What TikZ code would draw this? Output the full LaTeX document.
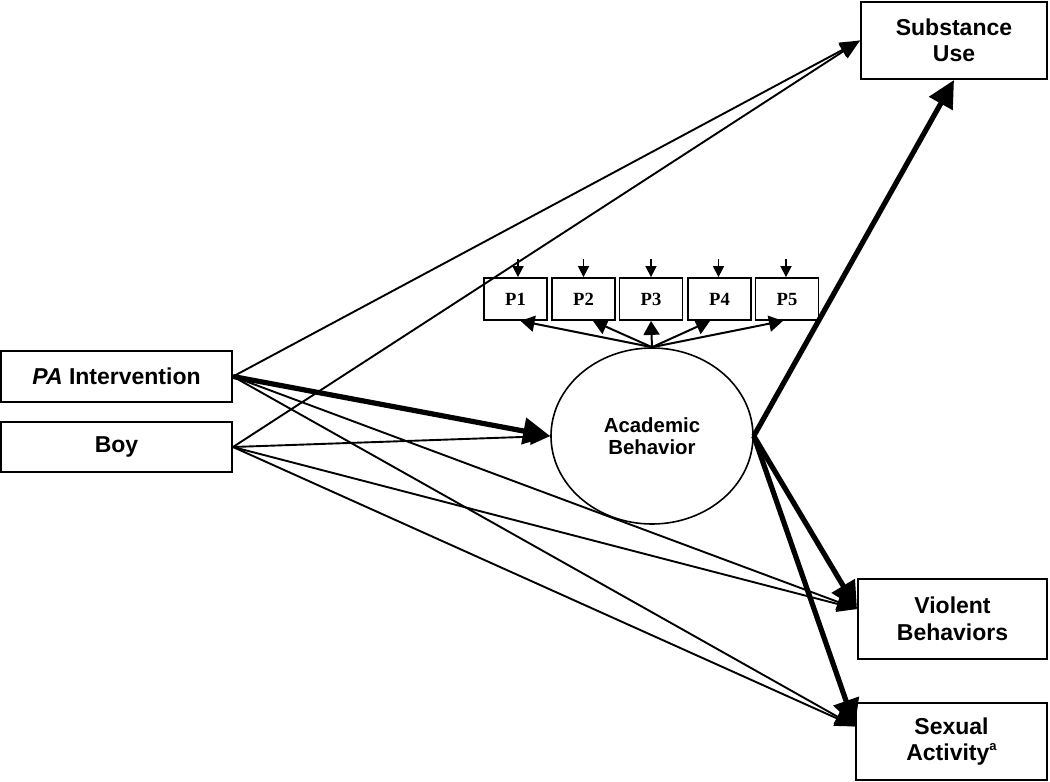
\documentclass[tikz,border=0pt]{standalone}
\usepackage{fontspec}
\setmainfont{Liberation Sans}
\newfontfamily\seriffont{Liberation Serif}
\usetikzlibrary{arrows.meta,calc,shapes.geometric}
\begin{document}
\begin{tikzpicture}[x=0.5pt,y=-0.5pt,
 box/.style={draw,line width=1pt,inner sep=0pt,align=center,font=\fontsize{11.5}{12.8}\selectfont\bfseries},
 pbox/.style={draw,line width=0.9pt,minimum width=31.5pt,minimum height=21pt,inner sep=0pt,font=\seriffont\fontsize{9.3}{10}\selectfont\bfseries},
 thinarr/.style={line width=0.95pt,-{Triangle[length=10pt,width=8pt]}},
 thickarr/.style={line width=2.6pt,-{Triangle[length=13.5pt,width=13pt]}},
 loadarr/.style={line width=1pt,-{Triangle[length=7pt,width=8pt]}},
 errarr/.style={line width=0.8pt,-{Triangle[length=5.5pt,width=5.5pt]}}]
\useasboundingbox (0,0) rectangle (1050,782);

% nodes
\node[box,minimum width=115.5pt,minimum height=25.5pt] (pa) at (116.5,376.5) {\textit{PA} Intervention};
\node[box,minimum width=115.5pt,minimum height=25pt] (boy) at (116.5,447) {Boy};
\node[box,minimum width=93pt,minimum height=38.5pt] (su) at (954,40.5) {Substance\\Use};
\node[box,minimum width=94.5pt,minimum height=40pt,font=\fontsize{11.5}{13.3}\selectfont\bfseries] (vb) at (952.5,619) {Violent\\Behaviors};
\node[box,minimum width=95.5pt,minimum height=38.5pt,font=\fontsize{11.5}{13.3}\selectfont\bfseries] (sa) at (951.5,741.5) {Sexual\\Activity\raisebox{0.45em}{\fontsize{6.5}{6.5}\selectfont a}};
\node[draw,ellipse,line width=0.8pt,minimum width=101pt,minimum height=88pt,inner sep=0pt,align=center,font=\fontsize{10.2}{11}\selectfont\bfseries] (ab) at (652,436) {Academic\\Behavior};

\node[pbox] (p1) at (515.5,299) {P1};
\node[pbox] (p2) at (583.5,299) {P2};
\node[pbox] (p3) at (651,299) {P3};
\node[pbox] (p4) at (719.5,299) {P4};
\node[pbox] (p5) at (787,299) {P5};

% error terms
\coordinate (e1) at ($(p1.north)+(2.5,-18)$);
\coordinate (e2) at ($(p2.north)+(0,-18)$);
\coordinate (e3) at ($(p3.north)+(0,-18)$);
\coordinate (e4) at ($(p4.north)+(-1,-18)$);
\coordinate (e5) at ($(p5.north)+(-1,-18)$);
\draw[errarr] (e1) -- ($(p1.north)+(2.5,0)$);
\draw[errarr] (e2) -- (p2.north);
\draw[errarr] (e3) -- (p3.north);
\draw[errarr] (e4) -- ($(p4.north)+(-1,0)$);
\draw[errarr] (e5) -- ($(p5.north)+(-1,0)$);

% loadings
\draw[loadarr] (ab.north) -- ($(p1.south)+(5,0)$);
\draw[loadarr] (ab.north) -- ($(p2.south)+(9.5,0)$);
\draw[loadarr] (ab.north) -- (p3.south);
\draw[loadarr] (ab.north) -- ($(p4.south)+(-9.5,0)$);
\draw[loadarr] (ab.north) -- ($(p5.south)+(-4,0)$);

% paths from PA Intervention
\draw[thinarr] (pa.east) -- (su.west);
\draw[thickarr] (pa.east) -- (ab.west);
\draw[thinarr] (pa.east) -- ($(vb.west)+(0,-10)$);
\draw[thinarr] (pa.east) -- ($(sa.west)+(0,-15)$);

% paths from Boy
\draw[thinarr] (boy.east) -- (su.west);
\draw[thinarr] (boy.east) -- (ab.west);
\draw[thinarr] (boy.east) -- ($(vb.west)+(0,-10)$);
\draw[thinarr] (boy.east) -- ($(sa.west)+(0,-15)$);

% paths from Academic Behavior
\draw[thickarr] (ab.east) -- (su.south);
\draw[thickarr] (ab.east) -- ($(vb.west)+(0,-10)$);
\draw[thickarr] (ab.east) -- ($(sa.west)+(0,-15)$);
\end{tikzpicture}
\end{document}
